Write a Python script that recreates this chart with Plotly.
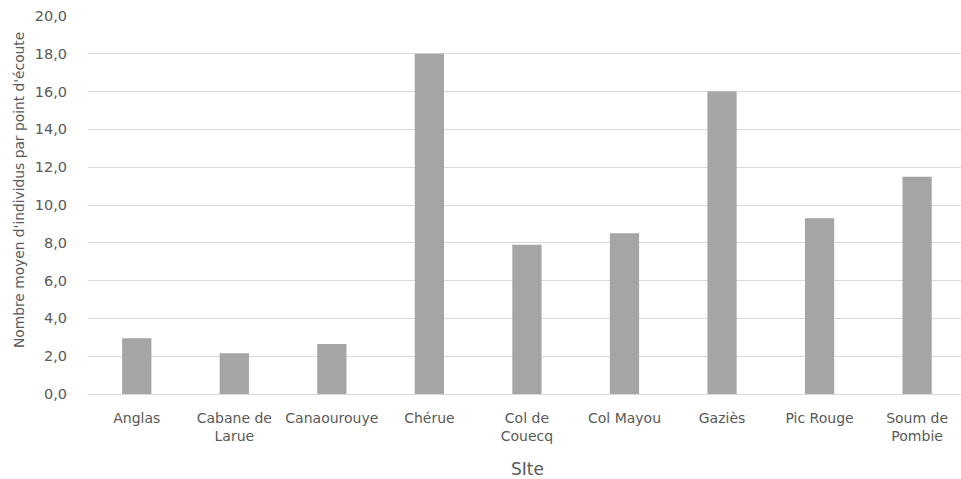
import plotly.graph_objects as go

sites = ["Anglas", "Cabane de<br>Larue", "Canaourouye", "Chérue", "Col de<br>Couecq",
         "Col Mayou", "Gaziès", "Pic Rouge", "Soum de<br>Pombie"]
values = [2.95, 2.15, 2.65, 18.0, 7.9, 8.5, 16.0, 9.3, 11.5]
y_ticks = [0, 2, 4, 6, 8, 10, 12, 14, 16, 18, 20]

FONT = "DejaVu Sans, sans-serif"
TXT = "#595959"

fig = go.Figure(go.Bar(
    x=list(range(len(sites))), y=values,
    marker=dict(color="#a5a5a5", line=dict(width=0)),
    width=0.3,
))

fig.update_layout(
    width=961, height=479,
    margin=dict(l=88, r=0, t=16, b=85, autoexpand=False),
    paper_bgcolor="white", plot_bgcolor="white",
    separators=", ",
    showlegend=False,
    font=dict(family=FONT, color=TXT, size=12),
    xaxis=dict(
        tickmode="array", tickvals=list(range(len(sites))), ticktext=sites,
        range=[-0.5, 8.45], showgrid=False, showline=False, ticks="",
        tickfont=dict(size=14, color=TXT), ticklabelstandoff=14,
        automargin=False,
    ),
    yaxis=dict(
        range=[0, 20], tickvals=y_ticks, tickformat=".1f",
        showgrid=True, gridcolor="#d9d9d9", gridwidth=1,
        zeroline=True, zerolinecolor="#d9d9d9", zerolinewidth=1,
        showline=False, ticks="", tickfont=dict(size=14.5, color=TXT),
        ticklabelstandoff=20, automargin=False,
    ),
    annotations=[
        dict(text="Nombre moyen d'individus par point d'écoute",
             xref="paper", yref="paper", x=-88/873, y=(394 - 190) / 378,
             xanchor="left", yanchor="middle", xshift=9, textangle=-90,
             showarrow=False, font=dict(size=13.8, color=TXT)),
        dict(text="SIte", xref="paper", yref="paper",
             x=(527 - 88) / 873, y=-(469 - 394) / 378,
             xanchor="center", yanchor="middle", showarrow=False,
             font=dict(size=17, color=TXT)),
    ],
)

fig.write_html("out.html", post_script="document.body.style.margin='0';",
               config={"displayModeBar": False})
